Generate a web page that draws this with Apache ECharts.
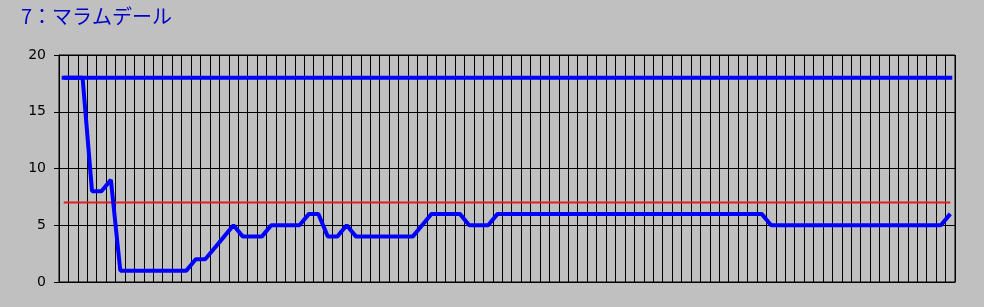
<!DOCTYPE html>
<html>
<head>
<meta charset="utf-8">
<script src="https://cdn.jsdelivr.net/npm/echarts@6/dist/echarts.min.js"></script>
<style>
html,body{margin:0;padding:0;background:#c0c0c0;}
#c{width:984px;height:307px;}
</style>
</head>
<body>
<div id="c"></div>
<script>
const titleText = '7：マラムデール';
const categories = [];
for (let i = 1; i <= 95; i++) categories.push(String(i));
const yTicks = [0, 5, 10, 15, 20];
const mainValues = [
  18, 18, 18, 8, 8, 9,
  1, 1, 1, 1, 1, 1, 1, 1,
  2, 2, 3, 4, 5,
  4, 4, 4,
  5, 5, 5, 5,
  6, 6,
  4, 4,
  5,
  4, 4, 4, 4, 4, 4, 4,
  5,
  6, 6, 6, 6,
  5, 5, 5,
  6, 6, 6, 6, 6, 6, 6, 6, 6, 6, 6, 6, 6, 6, 6, 6, 6, 6, 6, 6, 6, 6, 6, 6, 6, 6, 6, 6, 6,
  5, 5, 5, 5, 5, 5, 5, 5, 5, 5, 5, 5, 5, 5, 5, 5, 5, 5, 5,
  6
];
const upperLevel = categories.map(() => 18);
const redLevel = categories.map(() => 7);

const chart = echarts.init(document.getElementById('c'), null, {renderer: 'canvas'});
chart.setOption({
  animation: false,
  backgroundColor: '#c0c0c0',
  title: {
    text: titleText,
    left: 16, top: 1,
    textStyle: {color: '#0000c8', fontSize: 20, fontWeight: 'normal', fontFamily: 'Noto Sans CJK JP'}
  },
  grid: {left: 59, right: 29, top: 55, bottom: 25, show: true, borderColor: '#000', borderWidth: 1, backgroundColor: 'transparent'},
  xAxis: {
    type: 'category',
    data: categories,
    boundaryGap: true,
    axisLine: {show: true, lineStyle: {color: '#000', width: 1}},
    axisTick: {show: false},
    axisLabel: {show: false},
    splitLine: {show: true, interval: 0, lineStyle: {color: '#000', width: 1}}
  },
  yAxis: {
    type: 'value',
    min: yTicks[0], max: yTicks[yTicks.length - 1], interval: 5,
    axisLine: {show: true, lineStyle: {color: '#000', width: 1}},
    axisTick: {show: true, length: 5, inside: false, lineStyle: {color: '#000'}},
    axisLabel: {color: '#000', fontSize: 14, fontFamily: 'DejaVu Sans', margin: 13},
    splitLine: {show: true, lineStyle: {color: '#000', width: 1}}
  },
  series: [
    {type: 'line', data: redLevel, symbol: 'none', lineStyle: {color: '#e02020', width: 2}, silent: true},
    {type: 'line', data: upperLevel, symbol: 'none', lineStyle: {color: '#0000ff', width: 4, cap: 'square'}, silent: true},
    {type: 'line', data: mainValues, symbol: 'none', lineStyle: {color: '#0000ff', width: 4}, silent: true}
  ]
});
</script>
</body>
</html>
